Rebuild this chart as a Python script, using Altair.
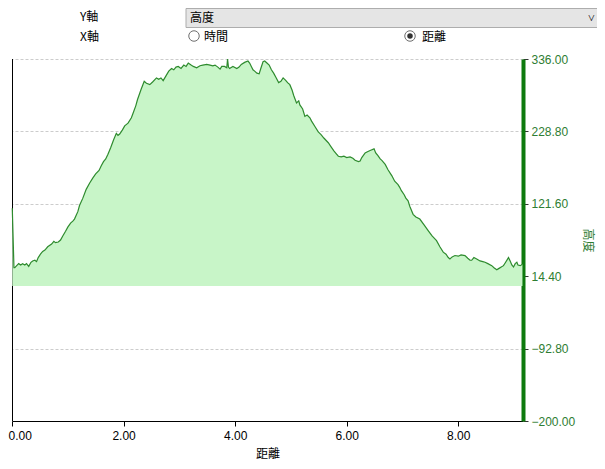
import altair as alt
import pandas as pd

distance = [0.005, 0.035, 0.05, 0.084, 0.12, 0.156, 0.19, 0.23, 0.26, 0.30, 0.34, 0.37, 0.41, 0.44, 0.47,
            0.51, 0.55, 0.59, 0.64, 0.71, 0.75, 0.78, 0.83, 0.87, 0.91, 0.96, 1.00, 1.05, 1.09, 1.12,
            1.18, 1.21, 1.27, 1.33, 1.39, 1.45, 1.50, 1.56, 1.60, 1.64, 1.68, 1.72, 1.77, 1.82, 1.87,
            1.90, 1.93, 1.98, 2.02, 2.08, 2.14, 2.18, 2.22, 2.25, 2.31, 2.37, 2.41, 2.47, 2.52, 2.59,
            2.63, 2.67, 2.71, 2.76, 2.81, 2.86, 2.90, 2.94, 2.98, 3.03, 3.08, 3.12, 3.16, 3.21, 3.25,
            3.31, 3.37, 3.42, 3.49, 3.55, 3.60, 3.64, 3.69, 3.73, 3.76, 3.81, 3.85, 3.864, 3.88, 3.90,
            3.96, 4.03, 4.07, 4.11, 4.17, 4.23, 4.26, 4.29, 4.32, 4.35, 4.39, 4.43, 4.46, 4.50, 4.53,
            4.57, 4.61, 4.65, 4.69, 4.73, 4.78, 4.82, 4.86, 4.91, 4.94, 4.98, 5.02, 5.05, 5.10, 5.14,
            5.16, 5.21, 5.25, 5.29, 5.34, 5.37, 5.43, 5.49, 5.54, 5.59, 5.67, 5.72, 5.77, 5.81, 5.85,
            5.90, 5.95, 6.00, 6.06, 6.11, 6.15, 6.21, 6.24, 6.27, 6.33, 6.38, 6.43, 6.49, 6.52, 6.56,
            6.60, 6.63, 6.69, 6.74, 6.81, 6.86, 6.92, 6.95, 6.98, 7.03, 7.06, 7.10, 7.13, 7.19, 7.24,
            7.31, 7.39, 7.46, 7.53, 7.61, 7.67, 7.73, 7.78, 7.82, 7.85, 7.89, 7.94, 8.00, 8.05, 8.12,
            8.17, 8.21, 8.24, 8.28, 8.33, 8.39, 8.44, 8.48, 8.53, 8.60, 8.64, 8.69, 8.73, 8.77, 8.81,
            8.84, 8.90, 8.93, 8.96, 8.99, 9.02, 9.05, 9.07, 9.11, 9.15]
elevation = [115, 27, 27, 30, 33, 31, 33, 31, 33, 29, 35, 37, 38, 36, 42,
             47, 51, 53, 58, 62, 66, 64, 65, 68, 74, 81, 87, 93, 96, 99,
             110, 119, 130, 143, 152, 160, 166, 171, 178, 184, 188, 195, 205, 216, 226,
             223, 225, 231, 237, 241, 249, 258, 267, 276, 290, 303, 300, 298, 302, 308,
             306, 308, 304, 311, 318, 322, 320, 324, 325, 322, 327, 325, 330, 327, 325,
             323, 326, 327, 328, 327, 326, 327, 324, 321, 325, 325, 323, 336, 324, 322,
             325, 322, 324, 328, 331, 333, 330, 325, 320, 318, 315, 314, 322, 332, 333,
             330, 327, 320, 315, 309, 301, 303, 308, 304, 301, 298, 290, 282, 271, 274,
             268, 262, 251, 253, 249, 244, 236, 228, 224, 219, 212, 206, 200, 196, 192,
             191, 192, 190, 191, 189, 186, 184, 185, 190, 197, 199, 201, 203, 197, 193,
             188, 186, 180, 172, 163, 155, 150, 146, 141, 135, 130, 126, 118, 106, 102,
             99, 90, 82, 74, 67, 58, 50, 47, 42, 40, 43, 45, 44, 46, 45,
             41, 38, 38, 42, 40, 37, 36, 35, 33, 30, 27, 24, 26, 28, 30,
             34, 42, 37, 31, 28, 33, 35, 31, 30, 32]

x_ticks = [0, 2, 4, 6, 8]
y_ticks = [-200.0, -92.8, 14.4, 121.6, 228.8, 336.0]

W, H = 511, 362
NUM_FONT = "Liberation Sans"
CJK_FONT = "Noto Sans CJK TC"
GREEN_AXIS = "#0e7a0e"
GREEN_TEXT = "#2e7d32"

df = pd.DataFrame({"dist": distance, "elev": elevation})
one = pd.DataFrame({"k": [0]})  # single row for decorations

area = alt.Chart(df).mark_area(
    color="#c8f5c8", opacity=1,
    line={"color": "#2e8b2e", "strokeWidth": 1.2},
).encode(
    x=alt.X("dist:Q", scale=alt.Scale(domain=[0, 9.16], nice=False, zero=False),
            axis=alt.Axis(values=x_ticks, format=".2f", title="距離", grid=False,
                          domainColor="black", tickColor="black", tickSize=5,
                          labelColor="black", labelFont=NUM_FONT, labelFontSize=12,
                          labelPadding=4, labelFlush=False,
                          labelAlign=alt.ConditionalAxisLabelAlign(
                              condition={"test": "datum.value == 0", "value": "left"},
                              value="center"),
                          labelOffset=alt.ConditionalAxisNumber(
                              condition={"test": "datum.value == 0", "value": -4},
                              value=0),
                          titleFont=CJK_FONT, titleFontSize=12, titleFontWeight="normal",
                          titleColor="black", titlePadding=7)),
    y=alt.Y("elev:Q", scale=alt.Scale(domain=[-200, 336], nice=False),
            axis=alt.Axis(orient="right", values=y_ticks, format=".2f", title="高度",
                          grid=True, gridColor="#cccccc", gridDash=[3, 2], gridWidth=1,
                          domainColor=GREEN_AXIS, domainWidth=4, tickColor="#333333",
                          tickSize=5, labelColor=GREEN_TEXT, labelFont=NUM_FONT,
                          labelFontSize=12, labelPadding=3, labelFlush=False,
                          titleFont=CJK_FONT, titleFontSize=12, titleFontWeight="normal",
                          titleColor=GREEN_TEXT, titlePadding=6)),
)

left_rule = alt.Chart(one).mark_rule(color="black", strokeWidth=1).encode(
    x=alt.value(0.5), y=alt.value(0), y2=alt.value(H)
)

# UI header (axis selectors)
dropdown = alt.Chart(one).mark_rect(fill="#e5e5e5", stroke="#adadad", strokeWidth=1).encode(
    x=alt.value(174), x2=alt.value(600), y=alt.value(-50.5), y2=alt.value(-31.5)
)

def label(txt, x, y, align="left"):
    return alt.Chart(one).mark_text(text=txt, font=CJK_FONT, fontSize=12, color="black",
                                    align=align, baseline="middle").encode(
        x=alt.value(x), y=alt.value(y))

y_lab = label("Y軸", 68, -42)
x_lab = label("X軸", 68, -22)
dd_text = label("高度", 178, -41)
dd_arrow = label("˅", 576, -41)
r1_text = label("時間", 192, -22)
r2_text = label("距離", 410, -22)

radio1 = alt.Chart(one).mark_point(shape="circle", filled=False, size=110, color="#333333",
                                    strokeWidth=1).encode(x=alt.value(182), y=alt.value(-23))
radio2 = alt.Chart(one).mark_point(shape="circle", filled=False, size=110, color="#333333",
                                    strokeWidth=1).encode(x=alt.value(398), y=alt.value(-23))
radio2dot = alt.Chart(one).mark_point(shape="circle", filled=True, size=30, color="#333333",
                                       opacity=1).encode(x=alt.value(398), y=alt.value(-23))

chart = alt.layer(
    left_rule, area, dropdown, y_lab, x_lab, dd_text, dd_arrow, r1_text, r2_text,
    radio1, radio2, radio2dot
).properties(
    width=W, height=H,
    autosize=alt.AutoSizeParams(type="none"),
    padding={"left": 4, "top": 51, "right": 74, "bottom": 40},
    background="white",
).configure_view(stroke=None)

chart.save("out.html", embed_options={"renderer": "svg", "actions": False})
